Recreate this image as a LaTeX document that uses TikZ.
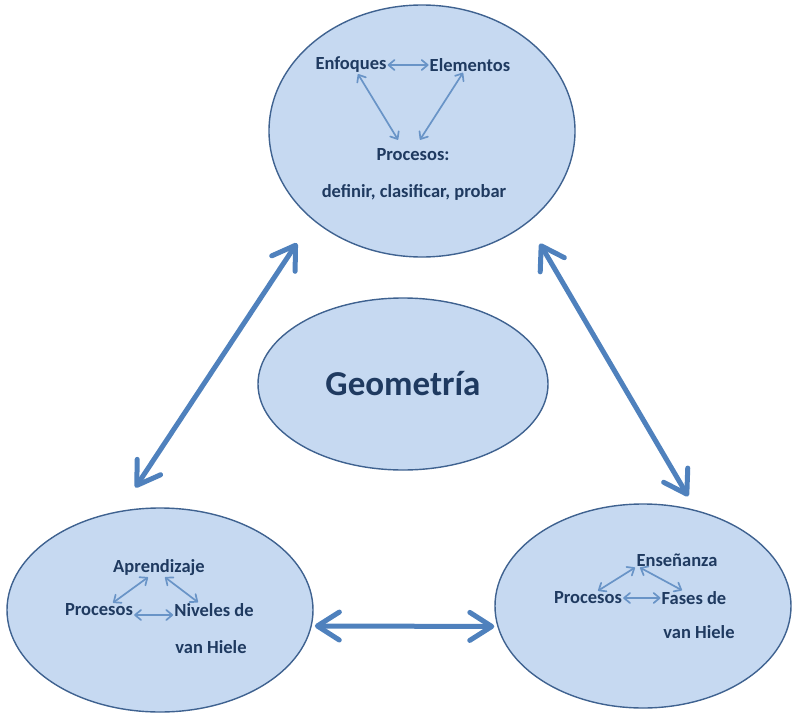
\documentclass[tikz,border=0pt]{standalone}
\usepackage{fontspec}
\setmainfont{Carlito}
\usetikzlibrary{shapes.geometric, arrows.meta}
\definecolor{fondo}{HTML}{C6D9F1}
\definecolor{borde}{HTML}{3F6290}
\definecolor{flecha}{HTML}{4F81BD}
\definecolor{texto}{HTML}{1F3A60}
\tikzset{
  elipse/.style={ellipse, draw=borde, fill=fondo, line width=1.4pt, inner sep=0pt},
  etiq/.style={text=texto, font=\fontsize{18.5}{22}\selectfont\bfseries, inner sep=1pt},
  flechagrande/.style={{Straight Barb[length=22pt,width=28pt,round]}-{Straight Barb[length=22pt,width=28pt,round]}, line width=5pt, draw=flecha},
  flechita/.style={{Straight Barb[length=6pt,width=10pt,round]}-{Straight Barb[length=6pt,width=10pt,round]}, line width=1.7pt, draw=flecha!85!white}
}

\begin{document}
\begin{tikzpicture}[x=1pt, y=-1pt]
  \useasboundingbox (0,0) rectangle (793,715);
%% ellipses
  \node[elipse, minimum width=306pt, minimum height=252pt] (arriba) at (422,131) {};
  \node[elipse, minimum width=290pt, minimum height=172pt, text=texto,
        font=\fontsize{35}{40}\selectfont\bfseries] (centro) at (403,384) {Geometría};
  \node[elipse, minimum width=306pt, minimum height=204pt] (izq) at (160,610) {};
  \node[elipse, minimum width=296pt, minimum height=204pt] (der) at (643,606) {};
%% big arrows
  \draw[flechagrande, shorten <=28pt, shorten >=28pt] (arriba.219) -- (izq.112);
  \draw[flechagrande, shorten <=24pt, shorten >=16pt] (arriba.319) -- (der.61);
  \draw[flechagrande, shorten <=3pt, shorten >=3pt] (izq.354) -- (der.188);
%% top diagram
  \node[etiq] (enf) at (351,65) {Enfoques};
  \node[etiq] (ele) at (470,65) {Elementos};
  \node[etiq] (proc) at (413,155) {Procesos:};
  \node[etiq] (defi) at (414,192) {definir, clasificar, probar};
  \draw[flechita] (enf.east) -- (ele.west);
  \draw[flechita] ([xshift=7pt]enf.south) -- ([xshift=-15pt,yshift=8pt]proc.north);
  \draw[flechita] ([xshift=-7pt]ele.south) -- ([xshift=7pt,yshift=8pt]proc.north);
%% bottom left diagram
  \node[etiq] (apr) at (159,568) {Aprendizaje};
  \node[etiq] (proc2) at (99,610) {Procesos};
  \node[etiq] (niv) at (214,610) {Niveles de};
  \node[etiq] (van) at (211,647) {van Hiele};
  \draw[flechita] ([xshift=14pt]proc2.north) -- ([xshift=-11pt]apr.south);
  \draw[flechita] ([xshift=6pt]apr.south) -- ([xshift=-16pt]niv.north);
  \draw[flechita] ([yshift=-5pt]proc2.east) -- ([yshift=-5pt]niv.west);
%% bottom right diagram
  \node[etiq] (ens) at (677,560) {Enseñanza};
  \node[etiq] (proc3) at (588,598) {Procesos};
  \node[etiq] (fas) at (694,598) {Fases de};
  \node[etiq] (van2) at (699,632) {van Hiele};
  \draw[flechita] ([xshift=10pt]proc3.north) -- ([xshift=-42pt]ens.south);
  \draw[flechita] ([xshift=-37pt]ens.south) -- ([xshift=-12pt]fas.north);
  \draw[flechita] (proc3.east) -- (fas.west);
\end{tikzpicture}
\end{document}
